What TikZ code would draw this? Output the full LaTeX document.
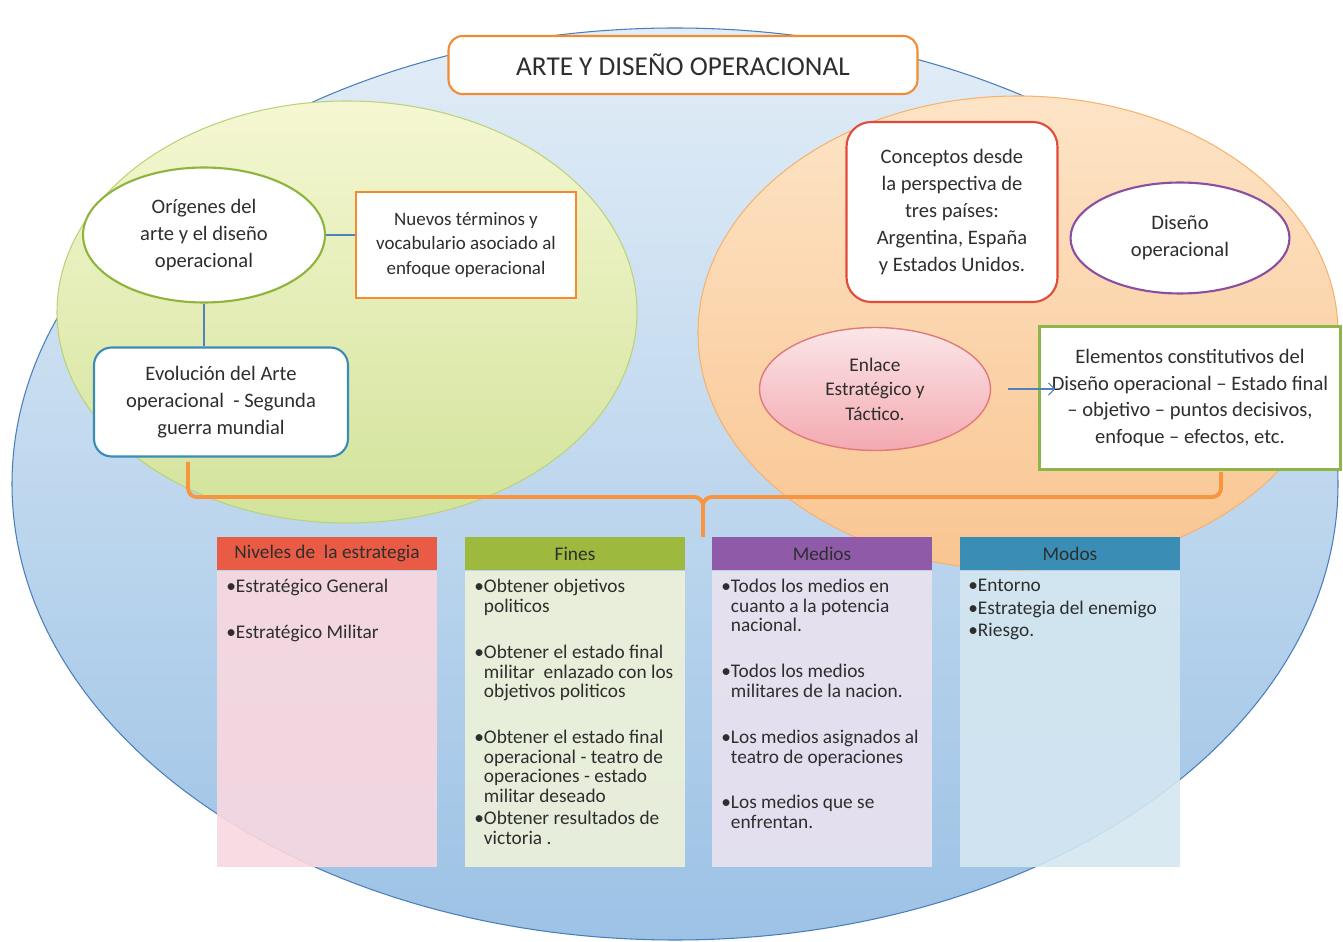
\documentclass[tikz,border=0pt]{standalone}
\usepackage{fontspec}
\setmainfont{Carlito}
\usetikzlibrary{shapes.geometric,arrows.meta}
\definecolor{txt}{HTML}{2E2E2E}
\definecolor{bigtop}{HTML}{E2EDF7}
\definecolor{bigbot}{HTML}{9CC2E5}
\definecolor{bigline}{HTML}{4A7EBB}
\definecolor{grtop}{HTML}{F5F7D2}
\definecolor{grbot}{HTML}{D2E39A}
\definecolor{grline}{HTML}{BCD27A}
\definecolor{ortop}{HTML}{FDE4C6}
\definecolor{orbot}{HTML}{F9C591}
\definecolor{orline}{HTML}{F5B36E}
\definecolor{titleor}{HTML}{F28C33}
\definecolor{origgreen}{HTML}{8EB43C}
\definecolor{nuevoor}{HTML}{F58B2E}
\definecolor{evolblue}{HTML}{3A8CB8}
\definecolor{concred}{HTML}{E24B3B}
\definecolor{dispurple}{HTML}{8A4FA0}
\definecolor{enlred}{HTML}{E07A7A}
\definecolor{enltop}{HTML}{FBE6E8}
\definecolor{enlbot}{HTML}{F3A9B0}
\definecolor{elemgreen}{HTML}{8DB54A}
\definecolor{linkblue}{HTML}{4F81BD}
\definecolor{braceor}{HTML}{F7963E}
\definecolor{nivhead}{HTML}{EA5B45}
\definecolor{nivbody}{HTML}{F9D8E0}
\definecolor{finhead}{HTML}{9DBA3E}
\definecolor{finbody}{HTML}{EEF2D9}
\definecolor{medhead}{HTML}{8F5AA8}
\definecolor{medbody}{HTML}{EAE2EF}
\definecolor{modhead}{HTML}{3A8EB5}
\definecolor{modbody}{HTML}{D4E7F1}
\newcommand\bulgap{\hphantom{\textbullet}}
\begin{document}
\begin{tikzpicture}[x=0.02cm, y=-0.02cm,
    every node/.style={font=\fontsize{11.7}{15.3}\selectfont, text=txt},
    box/.style={draw, line width=1.2pt, fill=white, align=center, inner sep=2pt},
    oval/.style={box, ellipse},
    link/.style={draw=linkblue, line width=0.6pt},
    >={Straight Barb[length=3.5pt,width=7pt]},
    brace/.style={draw=braceor, line width=2.2pt, rounded corners=5pt},
    head/.style={fill=#1, minimum width=4.4cm, minimum height=0.66cm, inner sep=0pt,
      font=\fontsize{11}{12}\selectfont},
    body/.style={fill=#1, fill opacity=0.9, minimum width=4.4cm, minimum height=5.92cm,
      anchor=north, inner sep=0pt},
    item/.style={anchor=north west, align=left, inner sep=0pt,
      font=\fontsize{11}{11.1}\selectfont}]
  \useasboundingbox (0,0) rectangle (1343,942);
  \fill[white] (0,0) rectangle (1343,942);
  % background ovals
  \path[draw=bigline, line width=0.6pt, top color=bigtop, bottom color=bigbot]
    (675,484) ellipse (663 and 456);
  \path[draw=grline, line width=0.6pt, top color=grtop, bottom color=grbot]
    (347,312) ellipse (290 and 211);
  \path[draw=orline, line width=0.6pt, top color=ortop, bottom color=orbot]
    (1018,333) ellipse (320 and 237);
  % brace
  \coordinate (bl) at (188,462);
  \coordinate (br) at (1221,472);
  \coordinate (bm) at (703,497);
  \coordinate (bt) at (703,537);
  \draw[brace] (bl) |- (bm) -- (bt);
  \draw[brace] (br) |- (bm) -- (bt);
  % title
  \node[box, draw=titleor, rounded corners=8pt, minimum width=9.38cm, minimum height=1.16cm,
    font=\fontsize{15.5}{18}\selectfont] (title) at (683,65) {ARTE Y DISEÑO OPERACIONAL};
  % left group
  \node[oval, draw=origgreen, minimum width=4.84cm, minimum height=2.7cm] (orig) at (204,235)
    {Orígenes del\\arte y el diseño\\operacional};
  \node[box, draw=nuevoor, minimum width=4.4cm, minimum height=2.12cm,
    font=\fontsize{10.8}{14}\selectfont] (nuevos) at (466,245)
    {Nuevos términos y\\vocabulario asociado al\\enfoque operacional};
  \node[box, draw=evolblue, rounded corners=10pt, minimum width=5.08cm, minimum height=2.18cm]
    (evol) at (221,402) {Evolución del Arte\\operacional\ \ - Segunda\\guerra mundial};
  \draw[link] (orig.east) -- (orig.east -| nuevos.west);
  \draw[link] (orig.south) -- (orig.south |- evol.north);
  % right group
  \node[box, draw=concred, rounded corners=14pt, minimum width=4.22cm, minimum height=3.6cm]
    (conc) at (952,212) {Conceptos desde\\la perspectiva de\\tres países:\\Argentina, España\\y Estados Unidos.};
  \node[oval, draw=dispurple, minimum width=4.38cm, minimum height=2.22cm] (dis) at (1180,238)
    {Diseño\\operacional};
  \node[oval, draw=enlred, line width=0.8pt, top color=enltop, bottom color=enlbot,
    minimum width=4.62cm, minimum height=2.46cm, font=\fontsize{11}{14}\selectfont]
    (enl) at (875,389) {Enlace\\Estratégico y\\Táctico.};
  \node[box, draw=elemgreen, minimum width=6.02cm, minimum height=2.86cm] (elem) at (1190,398)
    {Elementos constitutivos del\\Diseño operacional – Estado final\\– objetivo – puntos decisivos,\\enfoque – efectos, etc.};
  \draw[link, ->, shorten <=0.34cm, shorten >=-0.34cm] (enl.east) -- (enl.east -| elem.west);
  % tables
  \node[head=nivhead] (nivH) at (327,553.5) {Niveles de\ \ la estrategia};
  \node[body=nivbody] (nivB) at (nivH.south) {};
  \node[head=finhead] (finH) at (575,553.5) {Fines};
  \node[body=finbody] (finB) at (finH.south) {};
  \node[head=medhead] (medH) at (822,553.5) {Medios};
  \node[body=medbody] (medB) at (medH.south) {};
  \node[head=modhead] (modH) at (1070,553.5) {Modos};
  \node[body=modbody] (modB) at (modH.south) {};
  \node[item] (niv1) at (226,579) {\textbullet Estratégico General};
  \node[item] (niv2) at (226,625) {\textbullet Estratégico Militar};
  \node[item] (fin1) at (474,579) {\textbullet Obtener objetivos\\\bulgap politicos};
  \node[item] (fin2) at (474,645)
    {\textbullet Obtener el estado final\\\bulgap militar\ \ enlazado con los\\\bulgap objetivos politicos};
  \node[item] (fin3) at (474,730)
    {\textbullet Obtener el estado final\\\bulgap operacional - teatro de\\\bulgap operaciones - estado\\\bulgap militar deseado};
  \node[item] (fin4) at (474,811) {\textbullet Obtener resultados de\\\bulgap victoria .};
  \node[item] (med1) at (721,579)
    {\textbullet Todos los medios en\\\bulgap cuanto a la potencia\\\bulgap nacional.};
  \node[item] (med2) at (721,664) {\textbullet Todos los medios\\\bulgap militares de la nacion.};
  \node[item] (med3) at (721,730) {\textbullet Los medios asignados al\\\bulgap teatro de operaciones};
  \node[item] (med4) at (721,795) {\textbullet Los medios que se\\\bulgap enfrentan.};
  \node[item, font=\fontsize{11}{12.7}\selectfont] (mod1) at (968,579)
    {\textbullet Entorno\\\textbullet Estrategia del enemigo\\\textbullet Riesgo.};
\end{tikzpicture}
\end{document}
